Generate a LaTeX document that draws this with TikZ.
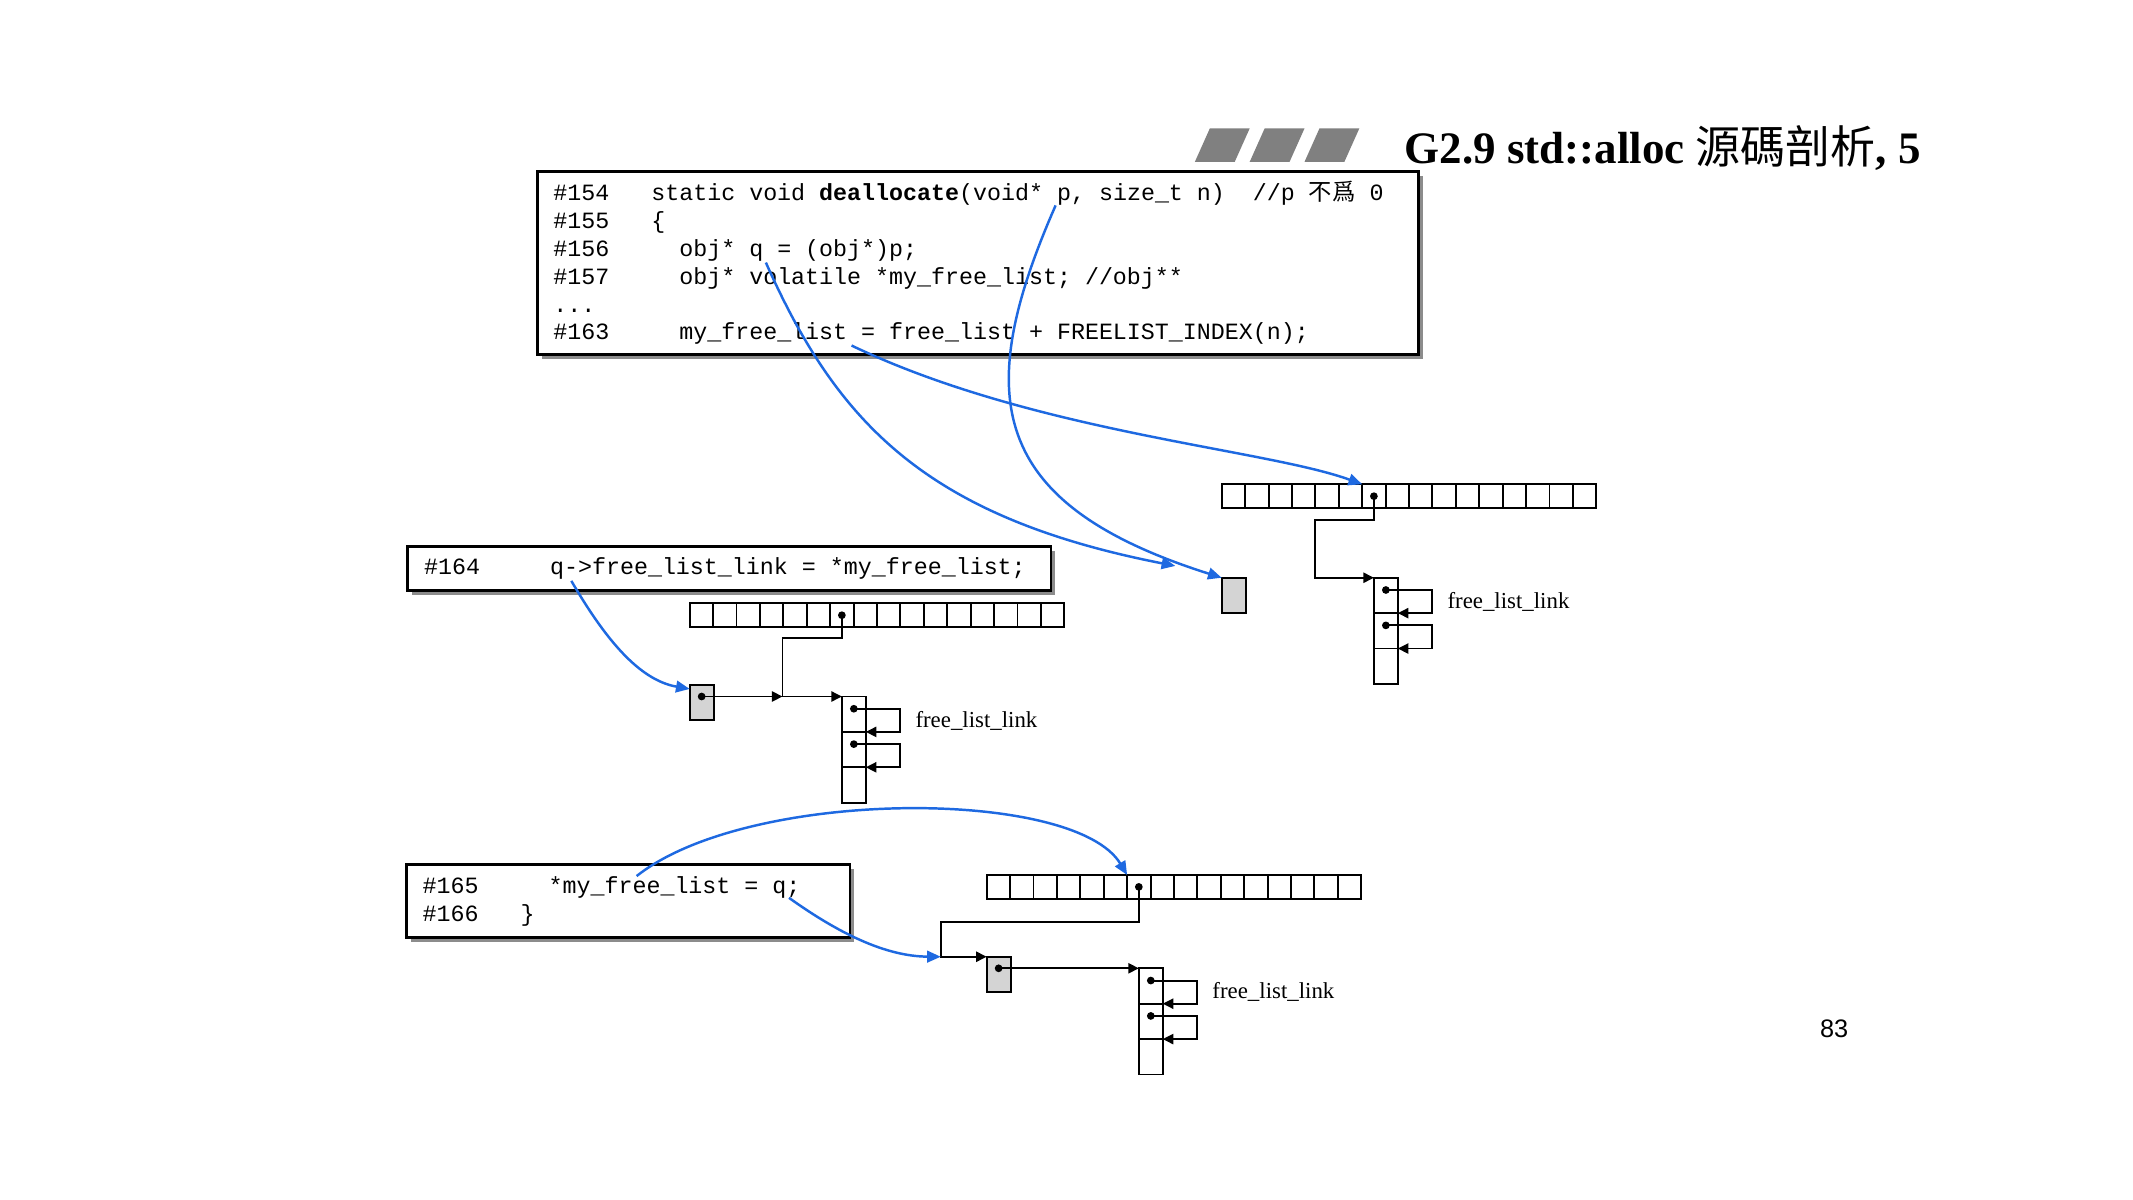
\documentclass[tikz,border=0pt]{standalone}
\usepackage{fontspec}
\setmainfont{Liberation Serif}
\newfontfamily\codefont{Liberation Mono}
\newfontfamily\cjkfont{Noto Sans CJK TC}
\newfontfamily\numfont{Liberation Sans}
\usetikzlibrary{arrows.meta,positioning,calc,shadows}
\definecolor{ptrblue}{RGB}{30,105,225}
\definecolor{bargray}{RGB}{128,128,128}
\newcommand\monospaces{\spaceskip=0.6em\relax\xspaceskip=0.6em\relax}
\frenchspacing

\begin{document}
\begin{tikzpicture}[
    x=0.013603cm, y=-0.013603cm,
    codebox/.style={draw, line width=0.8pt, fill=white, anchor=north west, align=left,
      inner xsep=0.163cm, inner ysep=0pt, font=\codefont\fontsize{6.63}{7.91}\selectfont,
      drop shadow={shadow xshift=1.25pt, shadow yshift=-1.25pt, fill=black!45, opacity=1}},
    cell/.style={draw, line width=0.55pt, minimum width=0.234cm, minimum height=0.238cm, inner sep=0pt, outer sep=0pt},
    slot/.style={cell, minimum width=0.2394cm, minimum height=0.3537cm},
    chunk/.style={slot, fill=black!17},
    dot/.style={circle, fill, inner sep=0pt, minimum size=2.2pt},
    link/.style={-{Triangle[length=3pt,width=2.9pt]}, line width=0.55pt},
    pointer/.style={-{Triangle[length=3.9pt,width=3.3pt]}, line width=0.7pt, ptrblue},
    tag/.style={font=\fontsize{6.5}{7}\selectfont, anchor=base west, inner sep=0pt}
]
\fill[white] (0,0) rectangle (1568,882);
\useasboundingbox (0,0) rectangle (1568,882);

% title bar
\foreach \k in {0,1,2}
  \fill[bargray] ({878.4+40.3*\k},118.9) -- ++(29.3,0) -- ++(11,-24.6) -- ++(-29.3,0) -- cycle;
\node[anchor=base west, inner sep=0pt, font=\fontsize{12.8}{15}\selectfont\bfseries] (title) at (1032,120)
  {G2.9 std::alloc {\cjkfont\mdseries 源碼剖析}, 5};

% source lines
\node[codebox, text width=8.485cm, minimum height=1.832cm] (code154) at (393.8,125) {\monospaces
\#154~~~static void {\bfseries deallocate}(void* p, size\_t n)~~//p {\cjkfont 不爲} 0\\
\#155~~~\{\\
\#156~~~~~obj* q = (obj*)p;\\
\#157~~~~~obj* volatile *my\_free\_list; //obj**\\
...\\
\#163~~~~~my\_free\_list = free\_list + FREELIST\_INDEX(n);};
\node[codebox, text width=6.101cm, minimum height=0.4435cm] (code164) at (298.8,400.6)
  {\monospaces\#164~~~~~q->free\_list\_link = *my\_free\_list;};
\node[codebox, text width=4.107cm, minimum height=0.7278cm] (code165) at (297.7,634.6)
  {\monospaces\#165~~~~~*my\_free\_list = q;\\ \#166~~~\}};

% free_list arrays
\foreach \nm/\x/\y in {A/898.1/356, B/507/443.5, C/725.3/643.2} {
  \node[cell, anchor=north west] (\nm0) at (\x,\y) {};
  \foreach \i [count=\j from 0] in {1,...,15}
    \node[cell, right=0pt of \nm\j] (\nm\i) {};
}

% chunks
\node[chunk, anchor=north west] (gA) at (898.1,424.7) {};
\node[chunk, anchor=north west] (gB) at (507,503.5) {};
\node[chunk, anchor=north west] (gC) at (725.3,703.3) {};
\node[dot] (gB-d) at ($(gB.north)+(0,8.5)$) {};
\node[dot] (gC-d) at ($(gC.north)+(0,8.5)$) {};

% lists
\coordinate (A-top) at (0,424.7);
\coordinate (B-top) at (gB-d);
\coordinate (C-top) at (gC-d);
\foreach \nm in {A,B,C} {
  \node[slot, anchor=north west] (\nm-s1) at (\nm6.center |- \nm-top) {};
  \node[slot, below=0pt of \nm-s1] (\nm-s2) {};
  \node[slot, below=0pt of \nm-s2] (\nm-s3) {};
  \node[dot] (\nm-d0) at (\nm6.center) {};
  \node[dot] (\nm-d1) at ($(\nm-s1.north)+(0,9)$) {};
  \node[dot] (\nm-d2) at ($(\nm-s2.north)+(0,9)$) {};
  \draw[link] (\nm-d1.center) -- ++(34,0) |- (\nm-s2.north east);
  \draw[link] (\nm-d2.center) -- ++(34,0) |- (\nm-s3.north east);
  \node[tag] (\nm-tag) at ($(\nm-s1.north east)+(36,22.5)$) {free\_list\_link};
}

\coordinate (A-bend) at (966.7,382.3);
\coordinate (B-bend) at (575.2,469.3);
\coordinate (C-bend) at (691.6,677.8);
\draw[link] (A-d0.center) |- (A-bend) |- (A-s1.north west);
\draw[link] (B-d0.center) |- (B-bend) |- (B-s1.north west);
\draw[link] (gB-d.center) -- (B-bend |- gB-d);
\draw[link] (C-d0.center) |- (C-bend) |- (gC.north west);
\draw[link] (gC-d.center) -- (C-s1.north west);

% blue pointers
\coordinate (p154) at (776,151);
\coordinate (q156) at (563,193);
\coordinate (fl163) at (626,254);
\coordinate (q164) at (420,427);
\coordinate (my165) at (468,644);
\coordinate (q165) at (580,660);
\coordinate (q-end) at (864,416);
\draw[pointer] (fl163) .. controls (760,318) and (930,330) .. (A6.north west);
\draw[pointer] (q156) .. controls (615,310) and (680,380) .. (q-end);
\draw[pointer] (p154) .. controls (715,290) and (725,370) .. (gA.north west);
\draw[pointer] (q164) .. controls (445,470) and (470,500) .. ([yshift=-0.04cm]gB.north west);
\draw[pointer] (my165) .. controls (550,579) and (790,579) .. (C6.north west);
\draw[pointer] (q165) .. controls (615,685) and (650,703) .. (C-bend |- gC.north west);

\node[anchor=base west, inner sep=0pt, font=\numfont\fontsize{7.2}{8}\selectfont] (page) at (1337.4,762.8) {83};
\end{tikzpicture}
\end{document}
